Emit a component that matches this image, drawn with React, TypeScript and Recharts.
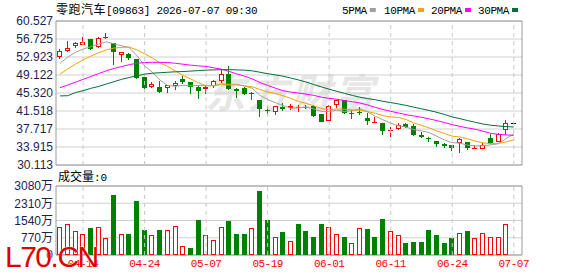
import React from 'react';
import {
  ComposedChart,
  Bar,
  Line,
  XAxis,
  YAxis,
  CartesianGrid,
  ReferenceLine,
  ReferenceArea,
} from 'recharts';

// ---------- data ----------
const dates = [
  '04-09', '04-10', '04-13', '04-14', '04-15', '04-16', '04-17', '04-20', '04-21', '04-22',
  '04-23', '04-24', '04-27', '04-28', '04-29', '04-30', '05-04', '05-05', '05-06', '05-07',
  '05-08', '05-11', '05-12', '05-13', '05-14', '05-15', '05-18', '05-19', '05-20', '05-21',
  '05-22', '05-26', '05-27', '05-28', '05-29', '06-01', '06-02', '06-03', '06-04', '06-05',
  '06-08', '06-09', '06-10', '06-11', '06-12', '06-15', '06-16', '06-17', '06-18', '06-22',
  '06-23', '06-24', '06-25', '06-26', '06-29', '06-30', '07-02', '07-03', '07-06', '07-07',
];

const opens = [
  52.99, 54.26, 55.18, 55.53, 56.65, 55.11, 57.08, 55.81, 53.42, 53.56,
  52.43, 48.63, 46.66, 46.52, 46.45, 46.80, 48.21, 47.57, 46.66, 46.10,
  46.87, 47.93, 49.26, 46.17, 46.45, 45.11, 43.84, 41.80, 41.24, 42.29,
  42.08, 42.30, 42.43, 42.57, 40.81, 39.48, 42.71, 43.84, 40.98, 41.30,
  40.11, 39.05, 38.91, 37.45, 37.72, 38.77, 38.35, 36.45, 35.80, 35.18,
  34.55, 34.34, 34.69, 34.97, 33.70, 33.56, 35.75, 35.04, 37.51, 39.05,
];
const highs = [
  54.54, 56.30, 56.09, 57.22, 56.75, 57.08, 57.92, 55.95, 54.05, 53.77,
  52.50, 48.70, 47.71, 47.85, 47.00, 47.85, 48.98, 47.60, 46.94, 46.70,
  48.07, 50.18, 51.02, 46.38, 46.60, 45.55, 43.90, 42.64, 42.55, 43.14,
  43.00, 42.78, 42.78, 42.78, 40.85, 42.78, 43.90, 43.90, 41.73, 42.29,
  41.03, 40.18, 38.95, 38.07, 38.91, 38.91, 38.77, 37.01, 36.10, 35.25,
  34.83, 34.40, 35.75, 35.00, 34.34, 34.69, 36.66, 36.94, 39.62, 39.05,
];
const lows = [
  52.43, 54.05, 54.75, 55.39, 54.33, 54.90, 56.65, 51.16, 51.94, 52.29,
  48.21, 46.10, 46.31, 45.39, 45.39, 45.95, 47.15, 45.11, 44.05, 45.04,
  46.45, 47.36, 45.95, 44.19, 44.90, 43.84, 40.18, 40.67, 40.74, 41.59,
  41.73, 41.38, 41.87, 40.32, 39.20, 39.40, 42.08, 40.80, 39.76, 40.67,
  38.56, 39.05, 36.45, 35.96, 37.51, 38.00, 36.24, 35.75, 35.04, 33.99,
  33.78, 33.14, 32.72, 33.28, 33.63, 33.42, 34.55, 34.90, 36.45, 39.05,
];
const closes = [
  54.19, 54.75, 55.88, 56.09, 54.54, 56.87, 57.22, 53.91, 53.98, 52.64,
  48.42, 46.45, 47.15, 45.60, 46.94, 47.50, 47.57, 46.66, 45.81, 46.66,
  47.85, 49.33, 46.17, 45.67, 45.04, 45.39, 41.87, 41.66, 42.50, 41.87,
  42.64, 42.40, 42.36, 40.46, 39.26, 42.57, 43.84, 41.03, 41.10, 41.17,
  39.48, 39.15, 37.36, 37.55, 38.49, 38.07, 36.45, 36.10, 35.70, 34.55,
  34.13, 33.70, 35.53, 33.63, 33.80, 34.27, 34.69, 36.59, 39.05, 39.05,
];
// volume in 万 shares
const volumes = [
  1229, 1362, 1051, 918, 1199, 1229, 740, 2665, 918, 918,
  2398, 1110, 873, 1110, 1110, 1273, 385, 311, 1554, 873,
  666, 1229, 1510, 932, 932, 1184, 2842, 1554, 784, 1021,
  621, 1376, 1066, 800, 1376, 1229, 932, 800, 533, 1184,
  1155, 800, 1599, 1051, 873, 533, 577, 577, 1110, 888,
  533, 755, 962, 1066, 740, 962, 784, 784, 1362, 0,
];
const ma5 = [
  51.6, 52.9, 53.9, 54.6, 55.09, 55.63, 56.12, 55.73, 55.30, 54.92,
  53.23, 51.08, 49.73, 48.05, 46.91, 46.73, 46.95, 46.85, 46.90, 46.84,
  46.91, 47.26, 47.16, 47.14, 46.81, 46.32, 44.83, 43.93, 43.29, 42.66,
  42.11, 42.21, 42.35, 41.95, 41.42, 41.41, 41.70, 41.43, 41.56, 41.94,
  41.32, 40.39, 39.65, 38.94, 38.41, 38.12, 37.58, 37.33, 36.96, 36.17,
  35.39, 34.84, 34.72, 34.31, 34.16, 34.19, 34.38, 34.60, 35.68, 36.73,
];
const ma10 = [
  49.3, 50.4, 51.4, 52.3, 53.1, 53.8, 54.4, 54.8, 54.95, 55.01,
  54.43, 53.60, 52.73, 51.68, 50.92, 49.98, 49.02, 48.29, 47.47, 46.88,
  46.82, 47.11, 47.01, 47.02, 46.83, 46.62, 46.05, 45.55, 45.21, 44.74,
  44.21, 43.52, 43.14, 42.62, 42.04, 41.76, 41.96, 41.89, 41.75, 41.68,
  41.37, 41.04, 40.54, 40.25, 40.17, 39.72, 38.99, 38.49, 37.95, 37.29,
  36.76, 36.21, 36.03, 35.64, 35.17, 34.79, 34.61, 34.66, 34.99, 35.44,
];
const ma20 = [
  46.45, 47.0, 47.6, 48.2, 48.8, 49.4, 50.0, 50.5, 50.9, 51.3,
  51.6, 51.75, 51.8, 51.8, 51.75, 51.6, 51.4, 51.2, 51.05, 50.94,
  50.62, 50.35, 49.87, 49.35, 48.87, 48.30, 47.53, 46.92, 46.34, 45.81,
  45.52, 45.31, 45.07, 44.82, 44.43, 44.19, 44.00, 43.72, 43.48, 43.21,
  42.79, 42.28, 41.84, 41.44, 41.11, 40.74, 40.47, 40.19, 39.85, 39.49,
  39.06, 38.63, 38.28, 37.94, 37.67, 37.26, 36.80, 36.58, 36.47, 36.37,
];
const ma30 = [
  44.7, 44.75, 45.4, 45.8, 46.3, 46.7, 47.2, 47.7, 48.2, 48.6,
  48.95, 49.3, 49.5, 49.6, 49.7, 49.8, 49.85, 49.95, 50.05, 50.15,
  50.2, 50.25, 50.25, 50.2, 50.15, 50.0, 49.7, 49.4, 49.15, 48.87,
  48.49, 48.08, 47.63, 47.10, 46.60, 46.12, 45.67, 45.24, 44.81, 44.43,
  44.13, 43.89, 43.56, 43.30, 43.01, 42.70, 42.33, 41.98, 41.64, 41.24,
  40.78, 40.26, 39.90, 39.50, 39.13, 38.76, 38.52, 38.35, 38.23, 38.14,
];

const dateTicks = ['04-14', '04-24', '05-07', '05-19', '06-01', '06-11', '06-24', '07-07'];
const priceTicks = [30.113, 33.915, 37.717, 41.518, 45.32, 49.122, 52.923, 56.725, 60.527];
const volumeTicks = [0, 770, 1540, 2310, 3080];
const legendItems = [
  { name: '5PMA', key: 'ma5', color: '#a0a0a0' },
  { name: '10PMA', key: 'ma10', color: '#f4a300' },
  { name: '20PMA', key: 'ma20', color: '#ff00ff' },
  { name: '30PMA', key: 'ma30', color: '#00703c' },
];
const stockName = '零跑汽车';
const stockCode = '[09863]';
const stamp = '2026-07-07 09:30';
const currentVolume = 0;

// ---------- derived table ----------
const data = dates.map((d, i) => ({
  idx: i,
  date: d,
  open: opens[i],
  high: highs[i],
  low: lows[i],
  close: closes[i],
  hl: [lows[i], highs[i]],
  vol: volumes[i],
  volUp: i === 0 ? closes[i] >= opens[i] : closes[i] >= closes[i - 1],
  ma5: ma5[i],
  ma10: ma10[i],
  ma20: ma20[i],
  ma30: ma30[i],
}));

const X_DOMAIN: [number, number] = [-0.52, 60.07];
const tickIdx = dateTicks.map((t) => dates.indexOf(t));
const P_MIN = priceTicks[0];
const P_MAX = priceTicks[priceTicks.length - 1];
const V_MAX = volumeTicks[volumeTicks.length - 1];

const RED = '#ff0000';
const GREEN = '#008000';
const GRID = '#d0d0d0';
const BORDER = '#9a9a9a';
const LABEL = '#1e1e50';

// ---------- shapes ----------
function Candle(props: any) {
  const { x, y, width, height, payload } = props;
  if (x == null || y == null || !payload) return null;
  const { open, close, high, low } = payload;
  const top = Math.min(y, y + (height || 0));
  const h = Math.abs(height || 0);
  const range = high - low;
  const py = (p: number) => (range > 0 ? top + ((high - p) / range) * h : top);
  const cx = Math.floor(x + width / 2);
  if (range === 0) {
    const yy = Math.round(top) + 0.5;
    return <line x1={cx - 2} x2={cx + 3} y1={yy} y2={yy} stroke="#000" strokeWidth={1} />;
  }
  const up = close >= open;
  const color = up ? RED : GREEN;
  const rTop = Math.round(py(Math.max(open, close)));
  const rBot = Math.round(py(Math.min(open, close)));
  const yh = Math.round(py(high));
  const yl = Math.round(py(low));
  const wx = cx + 0.5;
  if (up) {
    const flat = rBot - rTop <= 1;
    return (
      <g>
        <line x1={wx} x2={wx} y1={yh} y2={rTop} stroke={color} strokeWidth={1} />
        <line x1={wx} x2={wx} y1={flat ? rTop : rBot} y2={yl} stroke={color} strokeWidth={1} />
        {flat ? (
          <line x1={cx - 2} x2={cx + 3} y1={rTop + 0.5} y2={rTop + 0.5} stroke={color} strokeWidth={1} />
        ) : (
          <rect x={cx - 1.5} y={rTop + 0.5} width={4} height={rBot - rTop - 1} fill="#fff" stroke={color} strokeWidth={1} />
        )}
      </g>
    );
  }
  return (
    <g>
      <line x1={wx} x2={wx} y1={yh} y2={yl} stroke={color} strokeWidth={1} />
      <rect x={cx - 2} y={rTop} width={5} height={Math.max(rBot - rTop, 1)} fill={color} />
    </g>
  );
}

function VolBar(props: any) {
  const { x, y, width, height, payload } = props;
  if (x == null || y == null || !payload || !height) return null;
  const top = Math.round(Math.min(y, y + height));
  const bot = Math.round(Math.max(y, y + height));
  const cx = Math.floor(x + width / 2);
  if (payload.volUp) {
    return (
      <rect x={cx - 1.5} y={top + 0.5} width={4} height={Math.max(bot - top - 1, 0)} fill="#fff" stroke={RED} strokeWidth={1} />
    );
  }
  return <rect x={cx - 2} y={top} width={5} height={bot - top} fill={GREEN} />;
}

const PriceTick = (props: any) => {
  const { x, y, payload } = props;
  return (
    <text x={x} y={y} dy="0.36em" textAnchor="end" fontSize={12} fontFamily="Liberation Sans, Arial, sans-serif" fill={LABEL}>
      {Number(payload.value).toFixed(3)}
    </text>
  );
};

const VolTick = (props: any) => {
  const { x, y, payload } = props;
  const v = Number(payload.value);
  return (
    <text x={x} y={y} dy="0.36em" textAnchor="end" fontSize={12} fontFamily="Liberation Sans, 'Noto Sans CJK SC', sans-serif" fill={LABEL}>
      {v === 0 ? '0' : `${v}万`}
    </text>
  );
};

const DateTick = (props: any) => {
  const { x, y, payload } = props;
  return (
    <text x={x} y={y} dy="0.8em" textAnchor="middle" fontSize={11} letterSpacing={-0.5} fontFamily="Liberation Mono, monospace" fill={RED}>
      {dates[payload.value]}
    </text>
  );
};

const monoFont = 'Liberation Mono, DejaVu Sans Mono, monospace';
const cjkFont = 'Noto Sans CJK SC, sans-serif';

export default function App() {
  return (
    <div style={{ position: 'absolute', left: 0, top: 0, width: 578, height: 276, background: '#fff', overflow: 'hidden' }}>
      {/* background watermark */}
      <svg width={578} height={276} style={{ position: 'absolute', left: 0, top: 0 }}>
        <text x={205} y={108} fontSize={40} fontWeight={700} fontStyle="italic" letterSpacing={3} fontFamily={cjkFont} fill="#e6e6e6">
          东方财富
        </text>
      </svg>

      {/* price panel */}
      <div style={{ position: 'absolute', left: 0, top: 0 }}>
        <ComposedChart width={578} height={176} data={data} margin={{ top: 21, right: 56, bottom: 11, left: 0 }}>
          <CartesianGrid vertical={false} stroke={GRID} />
          {tickIdx.map((t) => (
            <ReferenceLine key={t} x={t} stroke="#c8c8c8" strokeDasharray="4 4" ifOverflow="visible" />
          ))}
          <XAxis dataKey="idx" type="number" domain={X_DOMAIN} allowDataOverflow hide />
          <YAxis
            type="number"
            domain={[P_MIN, P_MAX]}
            allowDataOverflow
            ticks={priceTicks}
            interval={0}
            width={56}
            axisLine={false}
            tickLine={false}
            tickSize={0}
            tickMargin={3}
            tick={<PriceTick />}
          />
          {legendItems.map((l) => (
            <Line key={l.key} dataKey={l.key} type="linear" stroke={l.color} strokeWidth={1} dot={false} activeDot={false} isAnimationActive={false} />
          ))}
          <Bar dataKey="hl" barSize={5} shape={<Candle />} isAnimationActive={false} />
          <ReferenceArea x1={X_DOMAIN[0]} x2={X_DOMAIN[1]} y1={P_MIN} y2={P_MAX} fill="none" stroke={BORDER} strokeWidth={1} ifOverflow="visible" />
        </ComposedChart>
      </div>

      {/* volume panel */}
      <div style={{ position: 'absolute', left: 0, top: 170 }}>
        <ComposedChart width={578} height={106} data={data} margin={{ top: 16, right: 56, bottom: 0, left: 0 }}>
          <CartesianGrid vertical={false} stroke={GRID} />
          {tickIdx.map((t) => (
            <ReferenceLine key={t} x={t} stroke="#c8c8c8" strokeDasharray="4 4" ifOverflow="visible" />
          ))}
          <XAxis
            dataKey="idx"
            type="number"
            domain={X_DOMAIN}
            allowDataOverflow
            ticks={tickIdx}
            interval={0}
            height={21}
            axisLine={false}
            tickLine={false}
            tickSize={0}
            tickMargin={3}
            tick={<DateTick />}
          />
          <YAxis
            type="number"
            domain={[0, V_MAX]}
            ticks={volumeTicks}
            interval={0}
            width={56}
            axisLine={false}
            tickLine={false}
            tickSize={0}
            tickMargin={3}
            tick={<VolTick />}
          />
          <Bar dataKey="vol" barSize={5} shape={<VolBar />} isAnimationActive={false} />
          <ReferenceArea x1={X_DOMAIN[0]} x2={X_DOMAIN[1]} y1={0} y2={V_MAX} fill="none" stroke={BORDER} strokeWidth={1} ifOverflow="visible" />
        </ComposedChart>
      </div>

      {/* overlay texts */}
      <svg width={578} height={276} style={{ position: 'absolute', left: 0, top: 0, pointerEvents: 'none' }}>
        <text x={56} y={14} fill="#000">
          <tspan fontSize={12} fontFamily={cjkFont} letterSpacing={0.5}>{stockName}</tspan>
          <tspan fontSize={11} fontFamily={monoFont} letterSpacing={-0.3}>{stockCode}</tspan>
          <tspan fontSize={11} fontFamily={monoFont} letterSpacing={-0.3}>{' ' + stamp}</tspan>
        </text>
        {legendItems.map((l, i) => {
          const xs = [342, 384, 431, 478][i];
          const w = l.name.length * 6.2;
          return (
            <g key={l.key}>
              <text x={xs} y={14} fontSize={11} fontFamily={monoFont} letterSpacing={-0.4} fill="#000">
                {l.name}
              </text>
              <rect x={xs + w + 3} y={8} width={6} height={4} fill={l.color} />
            </g>
          );
        })}
        <text x={58} y={181} fill="#000">
          <tspan fontSize={12} fontFamily={cjkFont}>成交量</tspan>
          <tspan fontSize={11} fontFamily={monoFont}>{':' + currentVolume}</tspan>
        </text>
        <text x={5} y={267} fontSize={30} letterSpacing={-1.5} fontFamily="Liberation Sans, Arial, sans-serif" fill="#e00000" stroke="#fff" strokeWidth={0.6} paintOrder="stroke">
          L70.CN
        </text>
      </svg>
    </div>
  );
}
